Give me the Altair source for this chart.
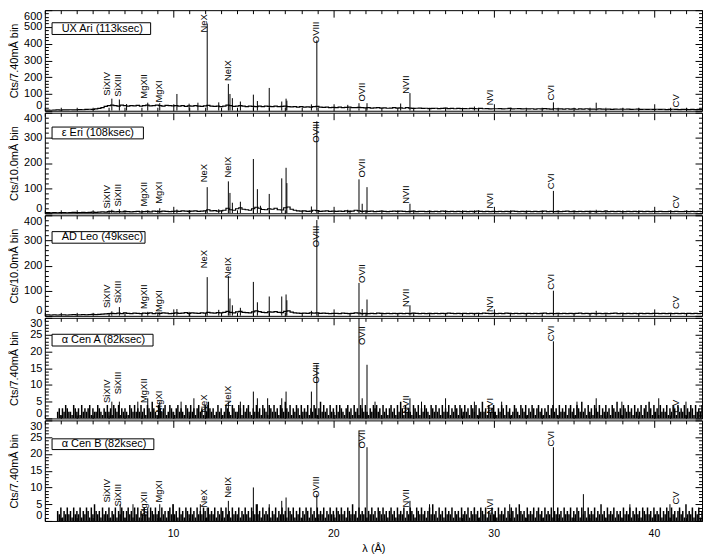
import altair as alt
import numpy as np
import pandas as pd

W = 660
H = 101
X_DOMAIN = [2.0, 43.0]
FONT = "Liberation Sans"

# ---------------- binned spectra ----------------
BRIGHT_START, BRIGHT_STEP = 2.0, 0.2
FAINT_START, FAINT_STEP = 2.8, 0.1

UXARI_CONT = [3, 4, 3, 4, 5, 4, 5, 5, 6, 5, 6,
              7, 6, 8, 9, 8,
              11, 14, 19, 26, 30,
              34, 30, 28, 33, 30, 27, 31, 29, 32, 28,
              30, 33, 29, 31, 34, 30, 28, 32, 30, 29,
              31, 28, 30, 26, 29, 27, 30, 28, 26, 29,
              32, 27, 26, 28, 25, 27, 34, 30, 26, 28,
              30, 27, 25, 28, 26, 24, 27, 25, 28, 26,
              25, 27, 24, 26, 28, 24, 23, 25, 22, 24,
              22, 23, 21, 24, 26, 22, 20, 21, 19, 20,
              19, 21, 18, 20, 22, 19, 18, 20, 19, 17,
              18, 16, 17, 19, 16, 17, 15, 16, 18, 16,
              17, 15, 18, 16, 14, 15, 16, 14, 15, 13,
              14, 15, 13, 14, 16, 13, 14, 12, 14, 13,
              13, 12, 14, 13, 12, 14, 12, 13, 11, 12,
              12, 13, 11, 12, 14, 11, 12, 13, 11, 12,
              11, 12, 10, 12, 11, 13, 11, 10, 12, 11,
              11, 10, 12, 10, 11, 9, 11, 10, 12, 10,
              10, 9, 11, 10, 9, 10, 8, 10, 9, 10,
              9, 10, 8, 9, 10, 8, 9, 8, 9, 8,
              9, 8, 9, 7, 8, 9, 8, 7, 8, 8,
              7, 8, 7, 8, 7]

EPSERI_CONT = [2, 3, 2, 3, 2, 3, 3, 2, 3, 4, 3,
               3, 4, 3, 4, 5,
               4, 5, 6, 5, 7,
               8, 6, 7, 6, 8, 7, 6, 7, 8, 6,
               7, 8, 6, 9, 8, 7, 9, 8, 7, 8,
               9, 8, 10, 9, 8, 9, 10, 8, 9, 10,
               14, 10, 11, 9, 10, 12, 20, 14, 12, 18,
               22, 16, 14, 12, 18, 24, 20, 15, 14, 18,
               16, 20, 14, 13, 22, 25, 16, 12, 10, 9,
               10, 8, 9, 12, 11, 8, 9, 10, 8, 9,
               8, 9, 8, 10, 8, 9, 12, 10, 8, 9,
               8, 9, 7, 8, 9, 8, 7, 8, 9, 8,
               9, 8, 7, 8, 9, 7, 8, 8, 7, 8,
               7, 8, 7, 9, 8, 7, 8, 7, 8, 7,
               8, 7, 8, 7, 9, 8, 7, 8, 7, 8,
               7, 8, 7, 8, 7, 9, 8, 7, 8, 7,
               8, 7, 8, 7, 8, 9, 7, 8, 7, 8,
               7, 8, 9, 7, 8, 7, 8, 7, 8, 7,
               8, 7, 8, 7, 9, 7, 8, 7, 8, 7,
               7, 8, 7, 8, 7, 8, 7, 8, 7, 8,
               7, 8, 7, 7, 8, 7, 8, 7, 7, 8,
               7, 8, 7, 8, 7]

ADLEO_CONT = [3, 4, 3, 4, 3, 4, 4, 3, 4, 5, 4,
              4, 5, 4, 5, 6,
              5, 6, 7, 8, 9,
              10, 9, 11, 9, 12, 10, 9, 11, 10, 9,
              11, 10, 12, 9, 11, 10, 12, 11, 9, 10,
              12, 10, 11, 13, 10, 12, 11, 10, 12, 11,
              14, 12, 11, 13, 12, 14, 18, 14, 12, 16,
              18, 14, 13, 12, 16, 20, 17, 14, 13, 16,
              15, 17, 14, 13, 18, 20, 15, 12, 11, 10,
              11, 10, 12, 11, 12, 10, 11, 10, 9, 10,
              10, 9, 11, 10, 9, 10, 12, 11, 9, 10,
              9, 10, 9, 11, 10, 9, 10, 9, 10, 9,
              10, 9, 10, 9, 11, 10, 9, 10, 9, 10,
              9, 10, 9, 10, 9, 11, 10, 9, 10, 9,
              10, 9, 10, 9, 10, 9, 11, 10, 9, 10,
              9, 10, 9, 11, 10, 9, 10, 9, 10, 9,
              10, 9, 10, 9, 10, 11, 9, 10, 9, 10,
              9, 10, 9, 10, 9, 10, 11, 9, 10, 9,
              10, 9, 10, 9, 10, 9, 10, 11, 9, 10,
              9, 10, 9, 10, 9, 10, 9, 10, 9, 10,
              10, 9, 10, 9, 10, 9, 10, 9, 10, 9,
              10, 9, 10, 9, 10]

ACENA_NOISE = [int(c) for c in (
    "23132432214323142323413224321324231432413232143242"
    "32423143253214323412432134232143242313423142532312"
    "42312432143224314234213242314321432423143253241324"
    "31423241324313524231423142432134231423143242132434"
    "23142313423142531423214324132432143242314232413243"
    "14324231432413252314234213243142312432143241324313"
    "42313241342314232413423143252314231432413242314325"
    "23143242314232413425314231423241324314232413243142"
    "324")]

ACENB_NOISE = [int(c) for c in (
    "32413242314232413243142532314232413241324313423142"
    "41324231432423142313425231423143242314232431423241"
    "32431423142324132423143252314232413241324231432413"
    "24132431423142324132423143242314325231423241324231"
    "43242313423142324132432143242313425231423142324132"
    "31423241324231432413242314232413243142532314232413"
    "42314232413242314232413243142314232413252314232413"
    "23142324132423143242314232413243142313423152324132"
    "413")]

# ---------------- emission lines (wavelength, peak counts) ----------------
UXARI_LINE_LAM = [6.18, 6.65, 7.1, 8.42, 9.17, 10.24, 11.0, 11.55, 12.13, 12.85, 13.45, 13.55, 13.7,
                  14.2, 15.01, 15.26, 16.0, 16.78, 17.05, 17.1, 18.63, 18.97, 20.9, 21.6, 22.1,
                  24.2, 24.78, 28.8, 33.73, 36.4]
UXARI_LINE_PEAK = [72, 67, 40, 48, 45, 100, 42, 48, 520, 50, 160, 100, 75,
                   55, 96, 58, 136, 55, 72, 60, 38, 420, 35, 45, 45,
                   43, 105, 25, 50, 48]

EPSERI_LINE_LAM = [6.18, 6.65, 8.42, 9.17, 10.24, 11.0, 12.13, 12.85, 13.45, 13.55, 13.7, 14.2,
                   15.01, 15.26, 15.45, 16.0, 16.78, 17.05, 17.1, 18.63, 18.97, 20.9, 21.6, 21.8,
                   22.1, 24.78, 28.8, 33.73, 36.4]
EPSERI_LINE_PEAK = [14, 16, 12, 20, 15, 13, 104, 16, 127, 81, 42, 46,
                    216, 96, 30, 77, 139, 181, 120, 27, 366, 14, 135, 38,
                    104, 38, 12, 89, 14]

ADLEO_LINE_LAM = [6.18, 6.65, 8.42, 9.17, 10.24, 11.0, 12.13, 12.85, 13.45, 13.55, 13.7, 14.2,
                  15.01, 15.26, 16.0, 16.78, 17.05, 17.1, 18.63, 18.97, 21.6, 21.8, 22.1,
                  24.78, 28.8, 33.73, 36.4]
ADLEO_LINE_PEAK = [18, 35, 16, 14, 27, 16, 154, 24, 158, 69, 42, 32,
                   135, 54, 77, 77, 85, 62, 20, 381, 131, 27, 65,
                   42, 12, 100, 20]

ACENA_LINE_LAM = [6.18, 6.65, 7.8, 8.42, 9.17, 10.5, 11.3, 12.13, 13.45, 14.2, 15.01, 15.26, 15.9,
                  16.78, 17.05, 18.63, 18.97, 21.6, 21.8, 22.1, 22.6, 24.78, 25.5, 27.0, 28.8,
                  30.5, 33.73, 35.2, 36.4, 38.0, 40.3, 42.0]
ACENA_LINE_PEAK = [5, 5, 5, 6, 5, 5, 6, 4, 5, 5, 8, 6, 6,
                   6, 8, 8, 16, 30, 6, 16, 5, 6, 5, 6, 5,
                   5, 23, 5, 6, 5, 6, 5]

ACENB_LINE_LAM = [6.7, 7.5, 8.42, 9.17, 10.0, 11.7, 12.13, 13.45, 15.01, 15.26, 16.0, 16.78,
                  17.05, 18.97, 21.6, 22.1, 24.78, 26.0, 28.8, 31.0, 33.73, 35.6, 38.5, 41.0]
ACENB_LINE_PEAK = [5, 5, 4, 5, 5, 5, 4, 6, 10, 5, 5, 6,
                   7, 8, 27, 22, 6, 5, 4, 5, 22, 8, 5, 5]

# ---------------- line identifications ----------------
ION_NAMES = ["SiXIV", "SiXIII", "MgXII", "MgXI", "NeX", "NeIX",
             "OVIII", "OVII", "NVII", "NVI", "CVI", "CV"]
ION_LABEL_LAM = [5.89, 6.56, 8.16, 9.14, 11.90, 13.44, 18.90, 21.78, 24.54, 29.75, 33.56, 41.35]
UXARI_LABEL_Y = [90, 84, 72, 49, 467, 177, 403, 55, 101, 32, 61, 20]
EPSERI_LABEL_Y = [19, 27, 27, 38, 123, 142, 281, 142, 38, 19, 96, 19]
ADLEO_LABEL_Y = [31, 50, 27, 15, 189, 150, 273, 131, 35, 15, 104, 27]
ACENA_LABEL_Y = [4.6, 7.2, 4.6, 1.7, 1.7, 3.5, 10.4, 21.9, 1.4, 1.4, 23.0, 1.7]
ACENB_LABEL_Y = [5.5, 4.3, 1.4, 5.5, 4.0, 6.9, 6.9, 21.6, 4.0, 2.0, 22.2, 4.9]

# ---------------- panel captions ----------------
STAR_LABELS = ["UX Ari (113ksec)", "\u03b5 Eri (108ksec)", "AD Leo (49ksec)",
               "\u03b1 Cen A (82ksec)", "\u03b1 Cen B (82ksec)"]
Y_TITLES = ["Cts/7.40m\u00c5 bin", "Cts/10.0m\u00c5 bin", "Cts/10.0m\u00c5 bin",
            "Cts/7.40m\u00c5 bin", "Cts/7.40m\u00c5 bin"]
Y_MAX = [600, 400, 400, 30, 30]
Y_MAJOR = [100, 100, 100, 5, 5]
Y_MINOR = [20, 20, 20, 1, 1]
BOX_X1 = [2.45, 2.45, 2.45, 2.45, 2.45]
BOX_X2 = [8.6, 8.15, 8.25, 8.75, 8.8]
BOX_Y1 = [455, 296, 289, 21.6, 21.3]
BOX_Y2 = [525, 343, 335, 25.1, 24.5]
BOX_TEXT_X = [3.05, 3.05, 3.05, 3.05, 3.05]

X_LABELS = [10, 20, 30, 40]
X_MINOR = list(range(2, 44, 1))

SPECTRA = [(UXARI_CONT, BRIGHT_START, BRIGHT_STEP, "line"),
           (EPSERI_CONT, BRIGHT_START, BRIGHT_STEP, "line"),
           (ADLEO_CONT, BRIGHT_START, BRIGHT_STEP, "line"),
           (ACENA_NOISE, FAINT_START, FAINT_STEP, "comb"),
           (ACENB_NOISE, FAINT_START, FAINT_STEP, "comb")]
LINES = [(UXARI_LINE_LAM, UXARI_LINE_PEAK), (EPSERI_LINE_LAM, EPSERI_LINE_PEAK),
         (ADLEO_LINE_LAM, ADLEO_LINE_PEAK), (ACENA_LINE_LAM, ACENA_LINE_PEAK),
         (ACENB_LINE_LAM, ACENB_LINE_PEAK)]
LABEL_Y = [UXARI_LABEL_Y, EPSERI_LABEL_Y, ADLEO_LABEL_Y, ACENA_LABEL_Y, ACENB_LABEL_Y]


def tick_axis(orient, offset, values, major, big=7, small=3.5):
    return alt.Axis(orient=orient, offset=offset, values=values, labels=False,
                    domain=False, grid=False, title=None, ticks=True,
                    tickColor="black", tickWidth=1,
                    tickSize={"condition": {"test": f"datum.value % {major} === 0", "value": big},
                              "value": small})


def make_panel(i, bottom):
    ymax, major, minor = Y_MAX[i], Y_MAJOR[i], Y_MINOR[i]
    xs = alt.Scale(domain=X_DOMAIN, nice=False, zero=False)
    ys = alt.Scale(domain=[0, ymax], nice=False)
    yminor = list(range(0, ymax + 1, minor))

    vals, start, step, style = SPECTRA[i]
    spec = pd.DataFrame({"lam": start + step * np.arange(len(vals)), "cts": vals,
                         "zero": [0] * len(vals)})
    spec = spec[spec["lam"] <= X_DOMAIN[1]]

    yaxis_labels = alt.Axis(
        orient="left", values=list(range(0, ymax + 1, major)), ticks=False, tickSize=0,
        domain=False, grid=False, labelFlush=True, labelPadding=3, labelFontSize=11,
        labelFont=FONT, labelColor="black", labelOverlap=False,
        title=Y_TITLES[i], titleFont=FONT, titleFontSize=11, titleFontWeight="normal",
        titleColor="black", titleX=-25, titleY=H / 2, titleAngle=270,
        titleBaseline="bottom", titleAlign="center")
    xaxis_bottom_ticks = tick_axis("top", -H, X_MINOR, 10)

    if style == "line":
        spec_layer = alt.Chart(spec).mark_line(
            interpolate="step", color="black", strokeWidth=1.2, clip=True
        ).encode(
            x=alt.X("lam:Q", scale=xs, axis=xaxis_bottom_ticks),
            y=alt.Y("cts:Q", scale=ys, axis=yaxis_labels),
        )
    else:
        spec_layer = alt.Chart(spec).mark_rule(
            color="black", strokeWidth=1.5, clip=True
        ).encode(
            x=alt.X("lam:Q", scale=xs, axis=xaxis_bottom_ticks),
            y=alt.Y("zero:Q", scale=ys, axis=yaxis_labels),
            y2="cts:Q",
        )

    lam_l, peak_l = LINES[i]
    ldf = pd.DataFrame({"lam": lam_l, "peak": peak_l, "zero": [0] * len(lam_l)})
    rule_layer = alt.Chart(ldf).mark_rule(color="black", strokeWidth=1, clip=True).encode(
        x=alt.X("lam:Q", scale=xs, axis=tick_axis("bottom", -H, X_MINOR, 10)),
        y=alt.Y("zero:Q", scale=ys, axis=tick_axis("right", -W, yminor, major)),
        y2="peak:Q",
    )

    tdf = pd.DataFrame({"lam": ION_LABEL_LAM, "y": LABEL_Y[i], "name": ION_NAMES})
    if bottom:
        xaxis = alt.Axis(orient="bottom", values=X_LABELS, ticks=False, tickSize=0, domain=False,
                         grid=False, labelPadding=8, labelFontSize=10.5, labelFont=FONT,
                         labelColor="black", title="\u03bb (\u00c5)", titleFont=FONT,
                         titleFontSize=11, titleFontWeight="normal", titleColor="black",
                         titlePadding=3)
    else:
        xaxis = None
    text_layer = alt.Chart(tdf).mark_text(
        angle=270, align="left", baseline="middle", fontSize=9.5, font=FONT, color="black",
        clip=True
    ).encode(
        x=alt.X("lam:Q", scale=xs, axis=xaxis),
        y=alt.Y("y:Q", scale=ys, axis=tick_axis("left", -W, yminor, major)),
        text="name:N",
    )

    bdf = pd.DataFrame({"x1": [BOX_X1[i]], "x2": [BOX_X2[i]], "y1": [BOX_Y1[i]],
                        "y2": [BOX_Y2[i]], "tx": [BOX_TEXT_X[i]],
                        "ty": [(BOX_Y1[i] + BOX_Y2[i]) / 2], "label": [STAR_LABELS[i]]})
    rect = alt.Chart(bdf).mark_rect(fill="white", stroke="black", strokeWidth=1).encode(
        x=alt.X("x1:Q", scale=xs, axis=None), x2="x2:Q",
        y=alt.Y("y1:Q", scale=ys, axis=None), y2="y2:Q",
    )
    btext = alt.Chart(bdf).mark_text(
        align="left", baseline="middle", fontSize=11, font=FONT, color="black"
    ).encode(
        x=alt.X("tx:Q", scale=xs, axis=None),
        y=alt.Y("ty:Q", scale=ys, axis=None),
        text="label:N",
    )

    return alt.layer(spec_layer, rule_layer, text_layer, rect, btext).resolve_scale(
        x="independent", y="independent").properties(width=W, height=H)


panels = [make_panel(i, i == 4) for i in range(5)]
chart = alt.vconcat(*panels, spacing=0, padding=0).configure_view(
    stroke="black", strokeWidth=1).configure_axis(grid=False)

chart.save("out.html", embed_options={"renderer": "svg", "actions": False})
